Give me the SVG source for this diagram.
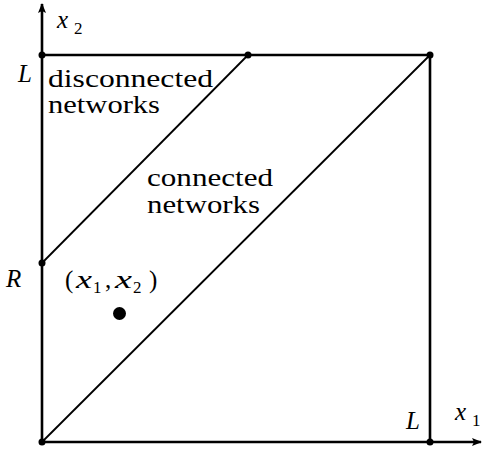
<svg xmlns="http://www.w3.org/2000/svg" width="482" height="449" viewBox="0 0 482 449">
<style>
text{font-family:"Liberation Serif","DejaVu Serif","Times New Roman",serif;font-size:25px;fill:#000}
.i{font-style:italic}
.s{font-size:17px;font-style:normal}
.frame{stroke:#000;stroke-width:2.6;fill:none}
.diag{stroke:#000;stroke-width:1.8;fill:none}
.pt{fill:#000}
</style>
<defs>
<marker id="arr" viewBox="0 0 10 10" refX="9" refY="5" markerWidth="10" markerHeight="10" markerUnits="userSpaceOnUse" orient="auto">
<path d="M0,1 L10,5 L0,9 L2,5 Z" fill="#000"/>
</marker>
</defs>
<g id="connectors">
<line class="frame" x1="42" y1="442" x2="42" y2="4" marker-end="url(#arr)"/>
<line class="frame" x1="42" y1="442" x2="481" y2="442" marker-end="url(#arr)"/>
<line class="frame" x1="42" y1="55" x2="430" y2="55"/>
<line class="frame" x1="430" y1="55" x2="430" y2="442"/>
<line class="diag" x1="42" y1="263" x2="248" y2="55"/>
<line class="diag" x1="42" y1="442" x2="430" y2="55"/>
</g>
<g id="points">
<circle class="pt" cx="42" cy="55" r="3.5"/>
<circle class="pt" cx="248" cy="55" r="3.5"/>
<circle class="pt" cx="430" cy="55" r="3.5"/>
<circle class="pt" cx="42" cy="263" r="3.5"/>
<circle class="pt" cx="42" cy="442" r="3.5"/>
<circle class="pt" cx="430" cy="442" r="3.5"/>
<circle class="pt" cx="119.5" cy="313.5" r="6.5"/>
</g>
<g id="labels">
<text class="i" x="57" y="28">x<tspan class="s" x="74" y="34">2</tspan></text>
<text class="i" x="455" y="420">x<tspan class="s" x="472" y="426">1</tspan></text>
<text class="i" x="18" y="82">L</text>
<text class="i" x="406" y="429">L</text>
<text class="i" x="6" y="287">R</text>
<text y="288"><tspan x="65">(</tspan><tspan class="i" x="76" textLength="16" lengthAdjust="spacingAndGlyphs">x</tspan><tspan class="s" x="93" y="293">1</tspan><tspan x="105" y="288">,</tspan><tspan class="i" x="115" textLength="17" lengthAdjust="spacingAndGlyphs">x</tspan><tspan class="s" x="133" y="293">2</tspan><tspan x="149" y="288">)</tspan></text>
</g>
<g id="region-disconnected">
<text x="48" y="87" textLength="165" lengthAdjust="spacingAndGlyphs">disconnected</text>
<text x="48" y="113" textLength="112" lengthAdjust="spacingAndGlyphs">networks</text>
</g>
<g id="region-connected">
<text x="147" y="186" textLength="126" lengthAdjust="spacingAndGlyphs">connected</text>
<text x="147" y="213" textLength="113" lengthAdjust="spacingAndGlyphs">networks</text>
</g>
</svg>
